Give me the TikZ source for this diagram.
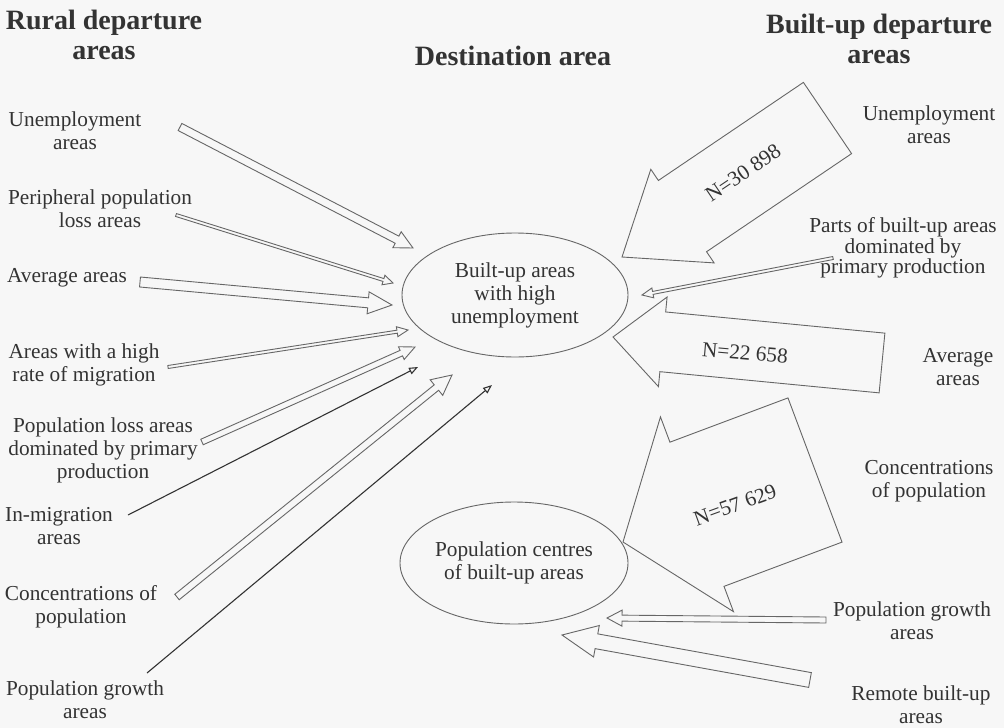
\documentclass[tikz,border=0pt]{standalone}
\usepackage{fontspec}
\setmainfont{Liberation Serif}
\usetikzlibrary{calc,shapes.geometric,arrows.meta}

% hollow arrow: [style] tail, tip, half shaft width, half head width, head length
\newcommand{\hollowarrow}[6][]{%
  \coordinate (hb) at ($(#3)!#6pt!(#2)$);
  \draw[flowarrow,#1] ($(#2)!#4pt!90:(#3)$) -- ($(hb)!#4pt!-90:(#2)$)
    -- ($(hb)!#5pt!-90:(#2)$) -- (#3) -- ($(hb)!#5pt!90:(#2)$)
    -- ($(hb)!#4pt!90:(#2)$) -- ($(#2)!#4pt!-90:(#3)$) -- cycle;
}

\begin{document}
\begin{tikzpicture}[x=1pt,y=-1pt,
  areatext/.style={align=center,text=black!80,inner sep=0pt,
    font=\fontsize{21.3}{23}\selectfont},
  heading/.style={align=center,text=black!80,inner sep=0pt,
    font=\fontsize{28}{30}\selectfont\bfseries},
  dest/.style={ellipse,draw=black!60,line width=0.9pt,areatext},
  flowarrow/.style={draw=black!60,line width=0.9pt,line join=miter},
  darkline/.style={draw=black!80,line width=1.1pt,
    -{Triangle[open,length=9pt,width=7pt]}},
  count/.style={text=black!80,inner sep=0pt,font=\fontsize{21.3}{23}\selectfont}]

  \useasboundingbox (0,0) rectangle (1004,728);
  \fill[black!3] (0,0) rectangle (1004,728);

  % headings
  \node[heading] (hrural) at (104,35) {Rural departure\\areas};
  \node[heading] (hdest) at (513,56) {Destination area};
  \node[heading] (hbuilt) at (879,39) {Built-up departure\\areas};

  % destination areas
  \node[dest,minimum width=226pt,minimum height=124pt] (destA) at (515,295)
    {Built-up areas\\with high\\unemployment};
  \node[dest,minimum width=228pt,minimum height=122pt] (destB) at (514,563)
    {Population centres\\of built-up areas};

  % rural departure areas
  \node[areatext] (lun) at (75,131) {Unemployment\\areas};
  \node[areatext] (lpp) at (100,209) {Peripheral population\\loss areas};
  \node[areatext] (lav) at (67,278) {Average areas};
  \node[areatext] (lhr) at (84,365) {Areas with a high\\rate of migration};
  \node[areatext] (lpl) at (103,450) {Population loss areas\\dominated by primary\\production};
  \node[areatext] (lim) at (59,526) {In-migration\\areas};
  \node[areatext] (lco) at (81,607) {Concentrations of\\population};
  \node[areatext] (lpg) at (85,700) {Population growth\\areas};

  % built-up departure areas
  \node[areatext] (run) at (929,125) {Unemployment\\areas};
  \node[areatext,font=\fontsize{21.3}{20.5}\selectfont] (rpb) at (903,248)
    {Parts of built-up areas\\dominated by\\primary production};
  \node[areatext] (rav) at (958,367) {Average\\areas};
  \node[areatext] (rco) at (929,481) {Concentrations\\of population};
  \node[areatext] (rpg) at (912,621) {Population growth\\areas};
  \node[areatext] (rrb) at (921,705) {Remote built-up\\areas};

  % arrow ends
  \coordinate (lun-t) at (180,127);  \coordinate (lun-h) at (413,248);
  \coordinate (lpp-t) at (176,215);  \coordinate (lpp-h) at (393,283);
  \coordinate (lav-t) at (140,282);  \coordinate (lav-h) at (392,305);
  \coordinate (lhr-t) at (168,367);  \coordinate (lhr-h) at (408,330);
  \coordinate (lpl-t) at (202,442);  \coordinate (lpl-h) at (415,347);
  \coordinate (lim-t) at (128,515);  \coordinate (lim-h) at (418,367);
  \coordinate (lco-t) at (177,597);  \coordinate (lco-h) at (452,375);
  \coordinate (lpg-t) at (147,673);  \coordinate (lpg-h) at (492,385);
  \coordinate (run-t) at (827.5,118); \coordinate (run-h) at (622,257);
  \coordinate (rpb-t) at (833,258);  \coordinate (rpb-h) at (642,295);
  \coordinate (rav-t) at (882,363);  \coordinate (rav-h) at (613,337);
  \coordinate (rco-t) at (815,470);  \coordinate (rco-h) at (623,542);
  \coordinate (rpg-t) at (826,620);  \coordinate (rpg-h) at (607,618);
  \coordinate (rrb-t) at (810,680);  \coordinate (rrb-h) at (562,635);

  % flows from rural areas
  \hollowarrow{lun-t}{lun-h}{4}{9}{18}
  \hollowarrow{lpp-t}{lpp-h}{1.5}{5}{10}
  \hollowarrow{lav-t}{lav-h}{5}{11}{24}
  \hollowarrow{lhr-t}{lhr-h}{1.5}{5}{11}
  \hollowarrow{lpl-t}{lpl-h}{3}{7}{15}
  \draw[darkline] (lim-t) -- (lim-h);
  \hollowarrow{lco-t}{lco-h}{3.5}{10}{20}
  \draw[darkline] (lpg-t) -- (lpg-h);

  % flows from built-up areas
  \hollowarrow{run-t}{run-h}{43}{56.5}{73}
  \node[count,rotate=34] (nun) at (743,173) {N=30 898};
  \hollowarrow{rpb-t}{rpb-h}{1.5}{5}{11}
  \hollowarrow{rav-t}{rav-h}{30}{45}{50}
  \node[count,rotate=-5] (nav) at (745,353) {N=22 658};
  \hollowarrow{rco-t}{rco-h}{77}{104}{79}
  \node[count,rotate=20] (nco) at (735,505) {N=57 629};
  \hollowarrow{rpg-t}{rpg-h}{3}{8}{15}
  \hollowarrow{rrb-t}{rrb-h}{7.5}{16}{35}

\end{tikzpicture}
\end{document}
